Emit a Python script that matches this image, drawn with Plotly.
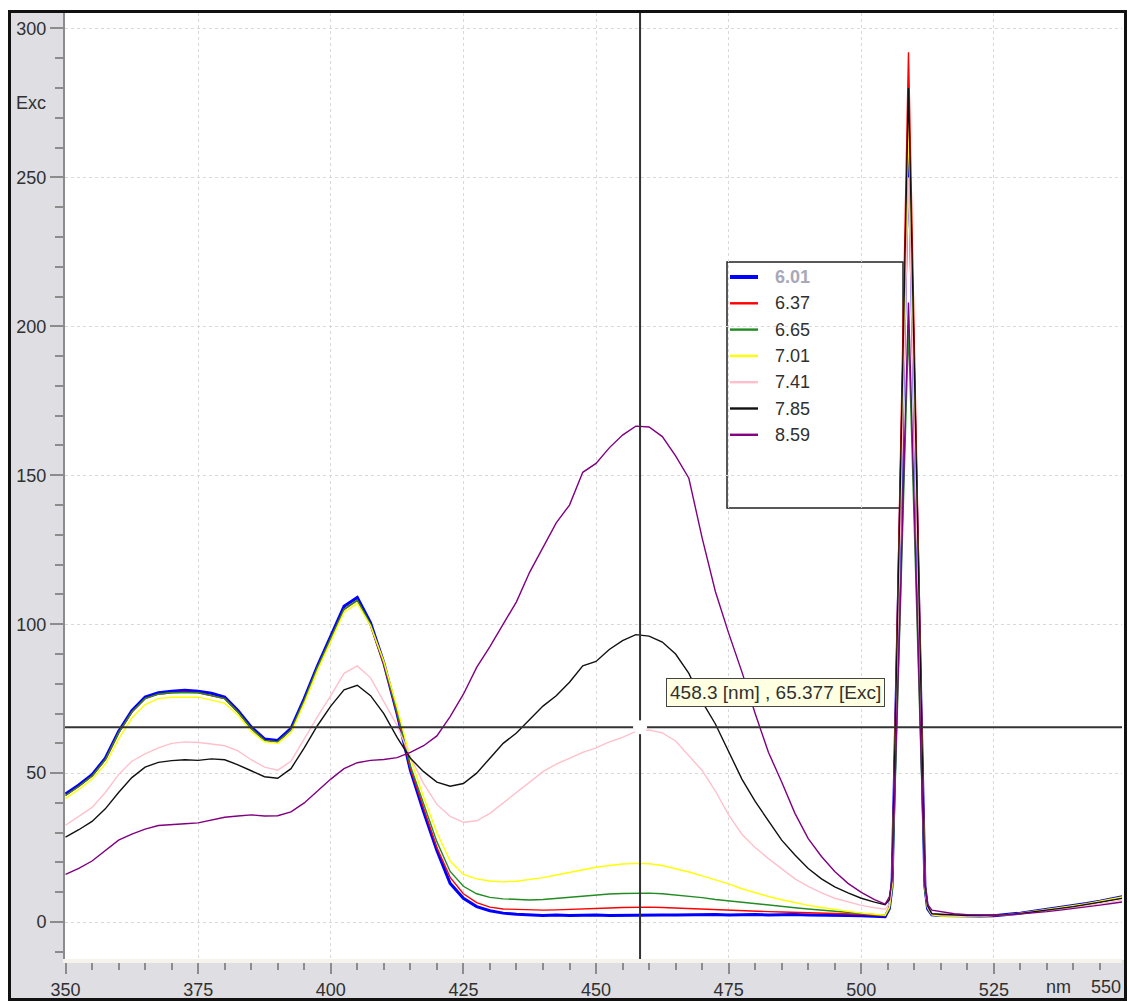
import plotly.graph_objects as go

# ---------------- data ----------------
wavelength = [350, 352.5, 355, 357.5, 360, 362.5, 365, 367.5, 370, 372.5,
              375, 377.5, 380, 382.5, 385, 387.5, 390, 392.5, 395, 397.5,
              400, 402.5, 405, 407.5, 410, 412.5, 415, 417.5, 420, 422.5,
              425, 427.5, 430, 432.5, 435, 437.5, 440, 442.5, 445, 447.5,
              450, 452.5, 455, 457.5, 460, 462.5, 465, 467.5, 470, 472.5,
              475, 477.5, 480, 482.5, 485, 487.5, 490, 492.5, 495, 497.5,
              500, 502.5,
              504.5, 505.3, 505.8, 506.3, 506.8, 507.3, 507.8, 508.3, 508.9,
              509.5, 510.0, 510.5, 511.0, 511.5, 512.0, 512.5, 513.3,
              515, 517.5, 520, 522.5, 525, 527.5, 530, 532.5, 535, 537.5,
              540, 542.5, 545, 547.5, 550]

ph_labels = ["6.01", "6.37", "6.65", "7.01", "7.41", "7.85", "8.59"]

exc_601 = [43, 46, 49.5, 55, 64, 71, 75.5, 77, 77.5, 77.8,
           77.5, 76.8, 75.5, 71, 65.5, 61.5, 61, 65, 75, 86,
           96, 106, 109, 100.5, 87, 70, 51, 37, 24, 13,
           8, 5.2, 3.8, 3.0, 2.6, 2.3, 2.2, 2.4, 2.2, 2.3,
           2.4, 2.2, 2.3, 2.4, 2.3, 2.4, 2.4, 2.5, 2.4, 2.5,
           2.4, 2.5, 2.5, 2.4, 2.5, 2.5, 2.4, 2.4, 2.3, 2.2,
           2.1, 1.9,
           1.8, 4.5, 12, 52, 92, 131, 173, 215, 262, 215, 173, 131, 92, 52, 12, 4.5, 2.4,
           2.2, 2.1, 2.0, 2.0, 2.1, 2.5, 3.0, 3.6, 4.2, 4.8, 5.5, 6.2, 7.0, 7.8, 8.8]

exc_637 = [42.5, 45.5, 49, 54.5, 63.5, 70.5, 75, 76.5, 77, 77.2,
           77, 76, 75, 70.5, 65, 61, 60.5, 64.5, 74.5, 85.5,
           95.5, 105, 108, 99.5, 86.5, 70, 51.5, 38, 25, 15,
           9.5, 6.5, 5.0, 4.4, 4.2, 4.1, 4.0, 4.1, 4.2, 4.4,
           4.5, 4.7, 4.9, 5.0, 5.0, 4.9, 4.7, 4.5, 4.3, 4.1,
           4.0, 3.8, 3.7, 3.5, 3.4, 3.3, 3.2, 3.0, 2.9, 2.8,
           2.6, 2.3,
           2.1, 5, 13, 58, 102, 146, 193, 240, 292, 240, 193, 146, 102, 58, 13, 5, 2.6,
           2.2, 2.1, 2.0, 2.0, 2.1, 2.4, 2.9, 3.5, 4.1, 4.7, 5.4, 6.1, 6.9, 7.6, 8.5]

exc_665 = [42.5, 45.5, 49, 54.5, 63.5, 70.5, 75, 76.5, 77, 77,
           77, 76, 75, 70.5, 65, 61, 60.5, 64.5, 74.5, 85.5,
           95.5, 105, 108, 100, 87, 70.5, 52.5, 40, 27, 17,
           12, 9.5, 8.3, 7.8, 7.5, 7.4, 7.6, 8.0, 8.4, 8.8,
           9.1, 9.4, 9.6, 9.7, 9.7, 9.5, 9.1, 8.6, 8.2, 7.6,
           7.1, 6.6, 6.1, 5.7, 5.2, 4.8, 4.4, 4.0, 3.7, 3.3,
           2.9, 2.5,
           2.2, 4.5, 10, 40, 70, 100, 131, 163, 199, 163, 131, 100, 70, 40, 10, 4.5, 2.4,
           2.0, 1.9, 1.9, 2.0, 2.1, 2.4, 2.9, 3.4, 4.0, 4.6, 5.2, 6.0, 6.8, 7.5, 8.3]

exc_701 = [41.5, 44.5, 48, 53, 61.5, 68.5, 73, 75, 75.5, 75.5,
           75.5, 74.5, 73.5, 69.5, 64, 60.5, 60, 63.5, 73.5, 84.5,
           94.5, 104, 107, 99.5, 87.5, 72, 55, 42, 30, 20.5,
           16, 14.5, 13.8, 13.5, 13.7, 14.2, 14.9, 15.8, 16.7, 17.6,
           18.4, 19.0, 19.5, 19.7, 19.6, 19.0, 18.0, 16.8, 15.5, 14.2,
           12.8, 11.2, 9.8, 8.6, 7.5, 6.5, 5.6, 4.9, 4.2, 3.6,
           3.0, 2.6,
           2.3, 5, 12, 54, 94, 134, 177, 220, 268, 220, 177, 134, 94, 54, 12, 5, 2.4,
           2.0, 1.9, 1.9, 2.0, 2.2, 2.5, 3.0, 3.6, 4.2, 4.8, 5.5, 6.2, 7.0, 7.8, 8.7]

exc_741 = [32.5, 35.5, 38.5, 43.5, 49.5, 54, 56.5, 58.5, 60, 60.5,
           60.3, 59.8, 59.2, 57.5, 54.5, 52, 51, 54, 61.5, 69,
           76, 83.5, 86, 82, 74, 66, 55.5, 46.5, 39.5, 35.5,
           33.5, 34, 36.5, 40, 43.5, 47, 50.5, 53, 55, 57,
           58.5, 60.5, 62, 64, 64.5, 63.5, 60.8, 56, 50.9, 44,
           36, 29.5, 25, 21.3, 18, 14.5, 12, 9.8, 8, 6.7,
           5.6, 4.8,
           4.3, 6, 13, 50, 88, 125, 165, 205, 250, 205, 165, 125, 88, 50, 12, 5, 2.6,
           2.4, 2.2, 2.1, 2.1, 2.2, 2.4, 2.8, 3.3, 3.8, 4.3, 4.9, 5.5, 6.2, 6.9, 7.6]

exc_785 = [28.5, 31, 33.8, 38, 43.5, 48.5, 52, 53.6, 54.2, 54.5,
           54.3, 54.8, 54.5, 52.8, 50.8, 48.8, 48.3, 51.5, 58.5, 66,
           72.5, 78, 79.5, 76, 70, 62, 55, 50.5, 47, 45.6,
           46.5, 50, 55, 60, 63.5, 68, 72.5, 76, 80.5, 86,
           87.5, 91.5, 94.5, 96.5, 96, 94, 90, 83.5, 74, 66.5,
           57, 48, 40.5, 33.8, 27.5, 22.5, 18, 14.5, 11.8, 9.8,
           8, 6.7,
           5.8, 7.5, 15, 56, 98, 140, 185, 230, 280, 230, 185, 140, 98, 56, 13, 5.5, 2.8,
           2.6, 2.3, 2.2, 2.2, 2.3, 2.5, 2.9, 3.4, 4.0, 4.6, 5.2, 5.9, 6.7, 7.4, 8.2]

exc_859 = [16, 18, 20.5, 24, 27.5, 29.5, 31.2, 32.4, 32.8, 33,
           33.3, 34.3, 35.2, 35.6, 36, 35.6, 35.7, 37, 40, 44,
           48, 51.5, 53.5, 54.3, 54.6, 55.2, 57, 59.2, 62.5, 69,
           76.5, 85.5, 92.5, 100, 107.5, 117.5, 126, 134, 140, 151,
           154, 159.2, 163.5, 166.5, 166.2, 163, 156.5, 149, 129, 111,
           97, 84, 70, 57, 47, 36.5, 28, 22, 17, 13,
           10, 7.5,
           6, 8.5, 14, 42, 73, 104, 137, 171, 208, 171, 137, 104, 73, 42, 12, 6, 4,
           3.5, 2.8, 2.5, 2.3, 2.3, 2.4, 2.7, 3.1, 3.5, 4.0, 4.5, 5.1, 5.7, 6.3, 7.0]

series_values = [exc_601, exc_637, exc_665, exc_701, exc_741, exc_785, exc_859]

cursor_nm = 458.3
cursor_exc = 65.377

# ---------------- style ----------------
colors = ["#0000ff", "#ff0000", "#228b22", "#ffff00", "#ffc0cb", "#111111", "#800080"]
widths = [3, 1.4, 1.4, 1.4, 1.4, 1.4, 1.4]
FONT = "Liberation Sans, Arial, sans-serif"
TXT = "#303030"
FS = 18

W, H = 1130, 1002
ML, MR, MT, MB = 65, 8, 13, 43
PW, PH = W - ML - MR, H - MT - MB


def pxx(x):
    return (x - ML) / PW


def pxy(y):
    return (H - MB - y) / PH


fig = go.Figure()
for lab, vals, col, lw in zip(ph_labels, series_values, colors, widths):
    fig.add_trace(go.Scatter(x=wavelength, y=vals, mode="lines", name=lab,
                             line=dict(color=col, width=lw), hoverinfo="skip"))

shapes = []
# gray side panels
shapes.append(dict(type="rect", xref="paper", yref="paper", x0=pxx(10), x1=pxx(64),
                   y0=pxy(999), y1=pxy(12), fillcolor="#dedee3", line=dict(width=0), layer="below"))
shapes.append(dict(type="rect", xref="paper", yref="paper", x0=pxx(10), x1=pxx(1125),
                   y0=pxy(999), y1=pxy(960), fillcolor="#dedee3", line=dict(width=0), layer="below"))
# legend box
leg_x0, leg_x1, leg_y0, leg_y1 = 727, 903, 262, 508
shapes.append(dict(type="rect", xref="paper", yref="paper", x0=pxx(leg_x0), x1=pxx(leg_x1),
                   y0=pxy(leg_y1), y1=pxy(leg_y0), fillcolor="white",
                   line=dict(color="#222222", width=1.5), layer="between"))
annotations = []
for i, (lab, col, lw) in enumerate(zip(ph_labels, colors, widths)):
    yy = 277 + i * 26.3
    shapes.append(dict(type="line", xref="paper", yref="paper", x0=pxx(730), x1=pxx(758),
                       y0=pxy(yy), y1=pxy(yy), line=dict(color=col, width=lw + 1), layer="between"))
    if i == 0:
        txt = "<b>" + lab + "</b>"
        tc = "#a8a8b8"
    else:
        txt = lab
        tc = TXT
    annotations.append(dict(xref="paper", yref="paper", x=pxx(773), y=pxy(yy), text=txt,
                            showarrow=False, xanchor="left", yanchor="middle",
                            font=dict(family=FONT, size=FS, color=tc)))

# crosshair
shapes.append(dict(type="line", xref="x", yref="paper", x0=cursor_nm, x1=cursor_nm, y0=0, y1=1,
                   line=dict(color="#333333", width=2), layer="above"))
shapes.append(dict(type="line", xref="paper", yref="y", x0=0, x1=1, y0=cursor_exc, y1=cursor_exc,
                   line=dict(color="#333333", width=2), layer="above"))
shapes.append(dict(type="circle", xref="x", yref="y", xsizemode="pixel", ysizemode="pixel",
                   xanchor=cursor_nm, yanchor=cursor_exc, x0=-7, x1=7, y0=-7, y1=7,
                   fillcolor="white", line=dict(width=0), layer="above"))
# outer frame
shapes.append(dict(type="rect", xref="paper", yref="paper", x0=pxx(9.5), x1=pxx(1125.5),
                   y0=pxy(999.5), y1=pxy(11.5), line=dict(color="#111111", width=3),
                   fillcolor="rgba(0,0,0,0)", layer="above"))

annotations.append(dict(xref="paper", yref="paper", x=pxx(666), y=pxy(692.5),
                        text="458.3 [nm] , 65.377 [Exc]", showarrow=False,
                        xanchor="left", yanchor="middle", bgcolor="#ffffe1",
                        bordercolor="#444444", borderwidth=1, borderpad=3,
                        font=dict(family=FONT, size=19, color=TXT)))
annotations.append(dict(xref="paper", yref="paper", x=pxx(31), y=pxy(103), text="Exc",
                        showarrow=False, xanchor="center", yanchor="middle",
                        font=dict(family=FONT, size=FS, color=TXT)))
annotations.append(dict(xref="paper", yref="paper", x=pxx(1058), y=pxy(987), text="nm",
                        showarrow=False, xanchor="center", yanchor="middle",
                        font=dict(family=FONT, size=FS, color=TXT)))
annotations.append(dict(xref="paper", yref="paper", x=pxx(1123), y=pxy(987), text="550",
                        showarrow=False, xanchor="right", yanchor="middle",
                        font=dict(family=FONT, size=FS, color=TXT)))

fig.update_layout(
    width=W, height=H,
    margin=dict(l=ML, r=MR, t=MT, b=MB, pad=0, autoexpand=False),
    paper_bgcolor="white", plot_bgcolor="white",
    showlegend=False, hovermode=False,
    font=dict(family=FONT, size=FS, color=TXT),
    shapes=shapes, annotations=annotations,
)
fig.update_xaxes(range=[349.9, 549.15], tick0=350, dtick=25, ticks="outside", ticklen=11,
                 tickwidth=2, tickcolor="#8c8c8c", showline=True, linecolor="#f4f4ec", linewidth=4,
                 showgrid=True, gridcolor="#d9d9d9", griddash="dot", gridwidth=1, zeroline=False,
                 automargin=False,
                 tickfont=dict(family=FONT, size=FS, color=TXT),
                 minor=dict(dtick=5, tick0=350, ticks="outside", ticklen=7, tickwidth=2,
                            tickcolor="#8c8c8c", showgrid=False))
fig.update_yaxes(range=[-12.4, 305.2], tick0=0, dtick=50, ticks="outside", ticklen=13,
                 tickwidth=2, tickcolor="#8c8c8c", showline=True, linecolor="#8c8c8c", linewidth=2,
                 showgrid=True, gridcolor="#d9d9d9", griddash="dot", gridwidth=1, zeroline=False,
                 automargin=False,
                 tickfont=dict(family=FONT, size=FS, color=TXT),
                 minor=dict(dtick=10, tick0=0, ticks="outside", ticklen=8, tickwidth=2,
                            tickcolor="#8c8c8c", showgrid=False))

fig.write_html("out.html")
